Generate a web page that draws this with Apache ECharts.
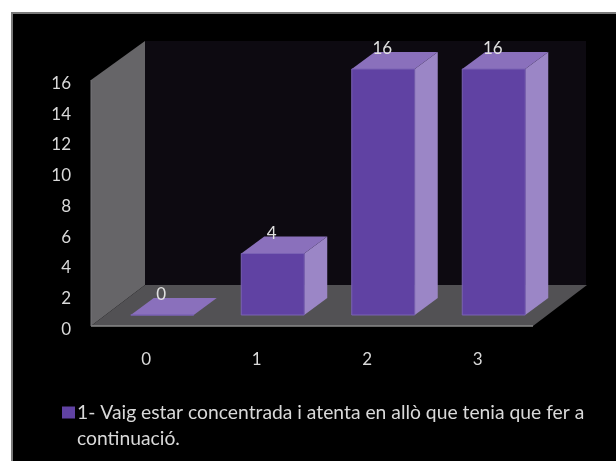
<!DOCTYPE html>
<html>
<head>
<meta charset="utf-8">
<style>html,body{margin:0;padding:0;background:#fff}#c{width:616px;height:461px}</style>
<script src="https://cdn.jsdelivr.net/npm/echarts@6/dist/echarts.min.js"></script>
</head>
<body>
<div id="c"></div>
<script>
const categories = ['0', '1', '2', '3'];
const values = [0, 4, 16, 16];
const seriesName = '1- Vaig estar concentrada i atenta en allò que tenia que fer a';
const seriesNameRest = 'continuació.';

const FONT = 'Lato, "Open Sans", sans-serif';
const chart = echarts.init(document.getElementById('c'), null, { renderer: 'canvas' });

function poly(points, fill, extra) {
  return Object.assign({
    type: 'polygon', silent: true,
    shape: { points },
    style: { fill, stroke: null }
  }, extra || {});
}

chart.setOption({
  animation: false,
  backgroundColor: '#ffffff',
  graphic: [{
    type: 'rect', z: -10, silent: true,
    shape: { x: 12, y: 13, width: 620, height: 460 },
    style: { fill: '#000000', stroke: '#7a7a7a', lineWidth: 2 }
  }, {
    type: 'text', silent: true, left: 77, top: 429, z: 5,
    style: { text: seriesNameRest, fill: '#d9d9d9', font: '19.3px ' + FONT }
  }],
  grid: { left: 91, right: 83, top: 80, bottom: 135, containLabel: false },
  xAxis: {
    type: 'category', data: categories,
    axisLine: { show: false }, axisTick: { show: false },
    axisLabel: { color: '#d9d9d9', fontFamily: FONT, fontSize: 17, margin: 25 }
  },
  yAxis: {
    type: 'value', min: 0, max: 16, interval: 2,
    splitLine: { show: false }, axisLine: { show: false }, axisTick: { show: false },
    axisLabel: { color: '#d9d9d9', fontFamily: FONT, fontSize: 17, margin: 20, verticalAlign: 'top', lineHeight: 7 }
  },
  legend: {
    data: [seriesName], left: 62, top: 403, padding: 0,
    icon: 'rect', itemWidth: 13, itemHeight: 12, itemGap: 0,
    textStyle: { color: '#d9d9d9', fontFamily: FONT, fontSize: 19.3, padding: [0, 0, 0, -3] }
  },
  series: [{
    type: 'custom', name: 'room', coordinateSystem: 'cartesian2d', silent: true, z: 1, clip: false,
    data: [[0, 0]],
    renderItem: function (params, api) {
      const r = params.coordSys;
      const base = api.coord([0, 0])[1];
      const top = api.coord([0, 16])[1];
      const L = r.x, R = r.x + r.width;
      const dx = 54, dyB = -41, dyT = -39;
      return {
        type: 'group',
        children: [
          poly([[L + dx, top + dyT], [R + dx - 1, top + dyT], [R + dx - 1, base + dyB], [L + dx, base + dyB]], '#0d0a11'),
          poly([[L, top], [L + dx, top + dyT], [L + dx, base + dyB], [L, base]], '#666568'),
          poly([[L, base], [L + dx, base + dyB], [R + dx, base + dyB], [R, base]], '#525154'),
          { type: 'line', silent: true, shape: { x1: L, y1: base, x2: R, y2: base }, style: { stroke: '#8a8a8a', lineWidth: 1.5 } },
          { type: 'line', silent: true, shape: { x1: L, y1: top, x2: L, y2: base }, style: { stroke: '#77767a', lineWidth: 1 } }
        ]
      };
    }
  }, {
    type: 'custom', name: seriesName, coordinateSystem: 'cartesian2d', z: 2, clip: false,
    itemStyle: { color: '#6042a3' },
    encode: { x: 0, y: 1 },
    data: values.map((v, i) => [i, v]),
    renderItem: function (params, api) {
      const p = api.coord([api.value(0), api.value(1)]);
      const q = api.coord([api.value(0), 0]);
      const w = api.size([1, 0])[0] * 0.57;
      const offX = 16, offY = -11, sx = 23, sy = -17;
      const x0 = p[0] + offX - w / 2, x1 = x0 + w;
      const yT = p[1] + offY, yB = q[1] + offY;
      return {
        type: 'group',
        children: [
          poly([[x1, yT], [x1 + sx, yT + sy], [x1 + sx, yB + sy], [x1, yB]], '#9b86c6'),
          poly([[x0, yT], [x0 + sx, yT + sy], [x1 + sx, yT + sy], [x1, yT]], '#8a70bc'),
          poly([[x0, yT], [x1, yT], [x1, yB], [x0, yB]], '#6042a3', { style: { fill: '#6042a3', stroke: '#7a62b4', lineWidth: 1 } }),
          {
            type: 'text', silent: true, z2: 10,
            style: {
              x: (x0 + x1) / 2 - 1, y: yT - 20, text: String(api.value(1)),
              fill: '#e0e0e0', font: '17px ' + FONT, textAlign: 'center', textVerticalAlign: 'middle'
            }
          }
        ]
      };
    }
  }]
});
</script>
</body>
</html>
